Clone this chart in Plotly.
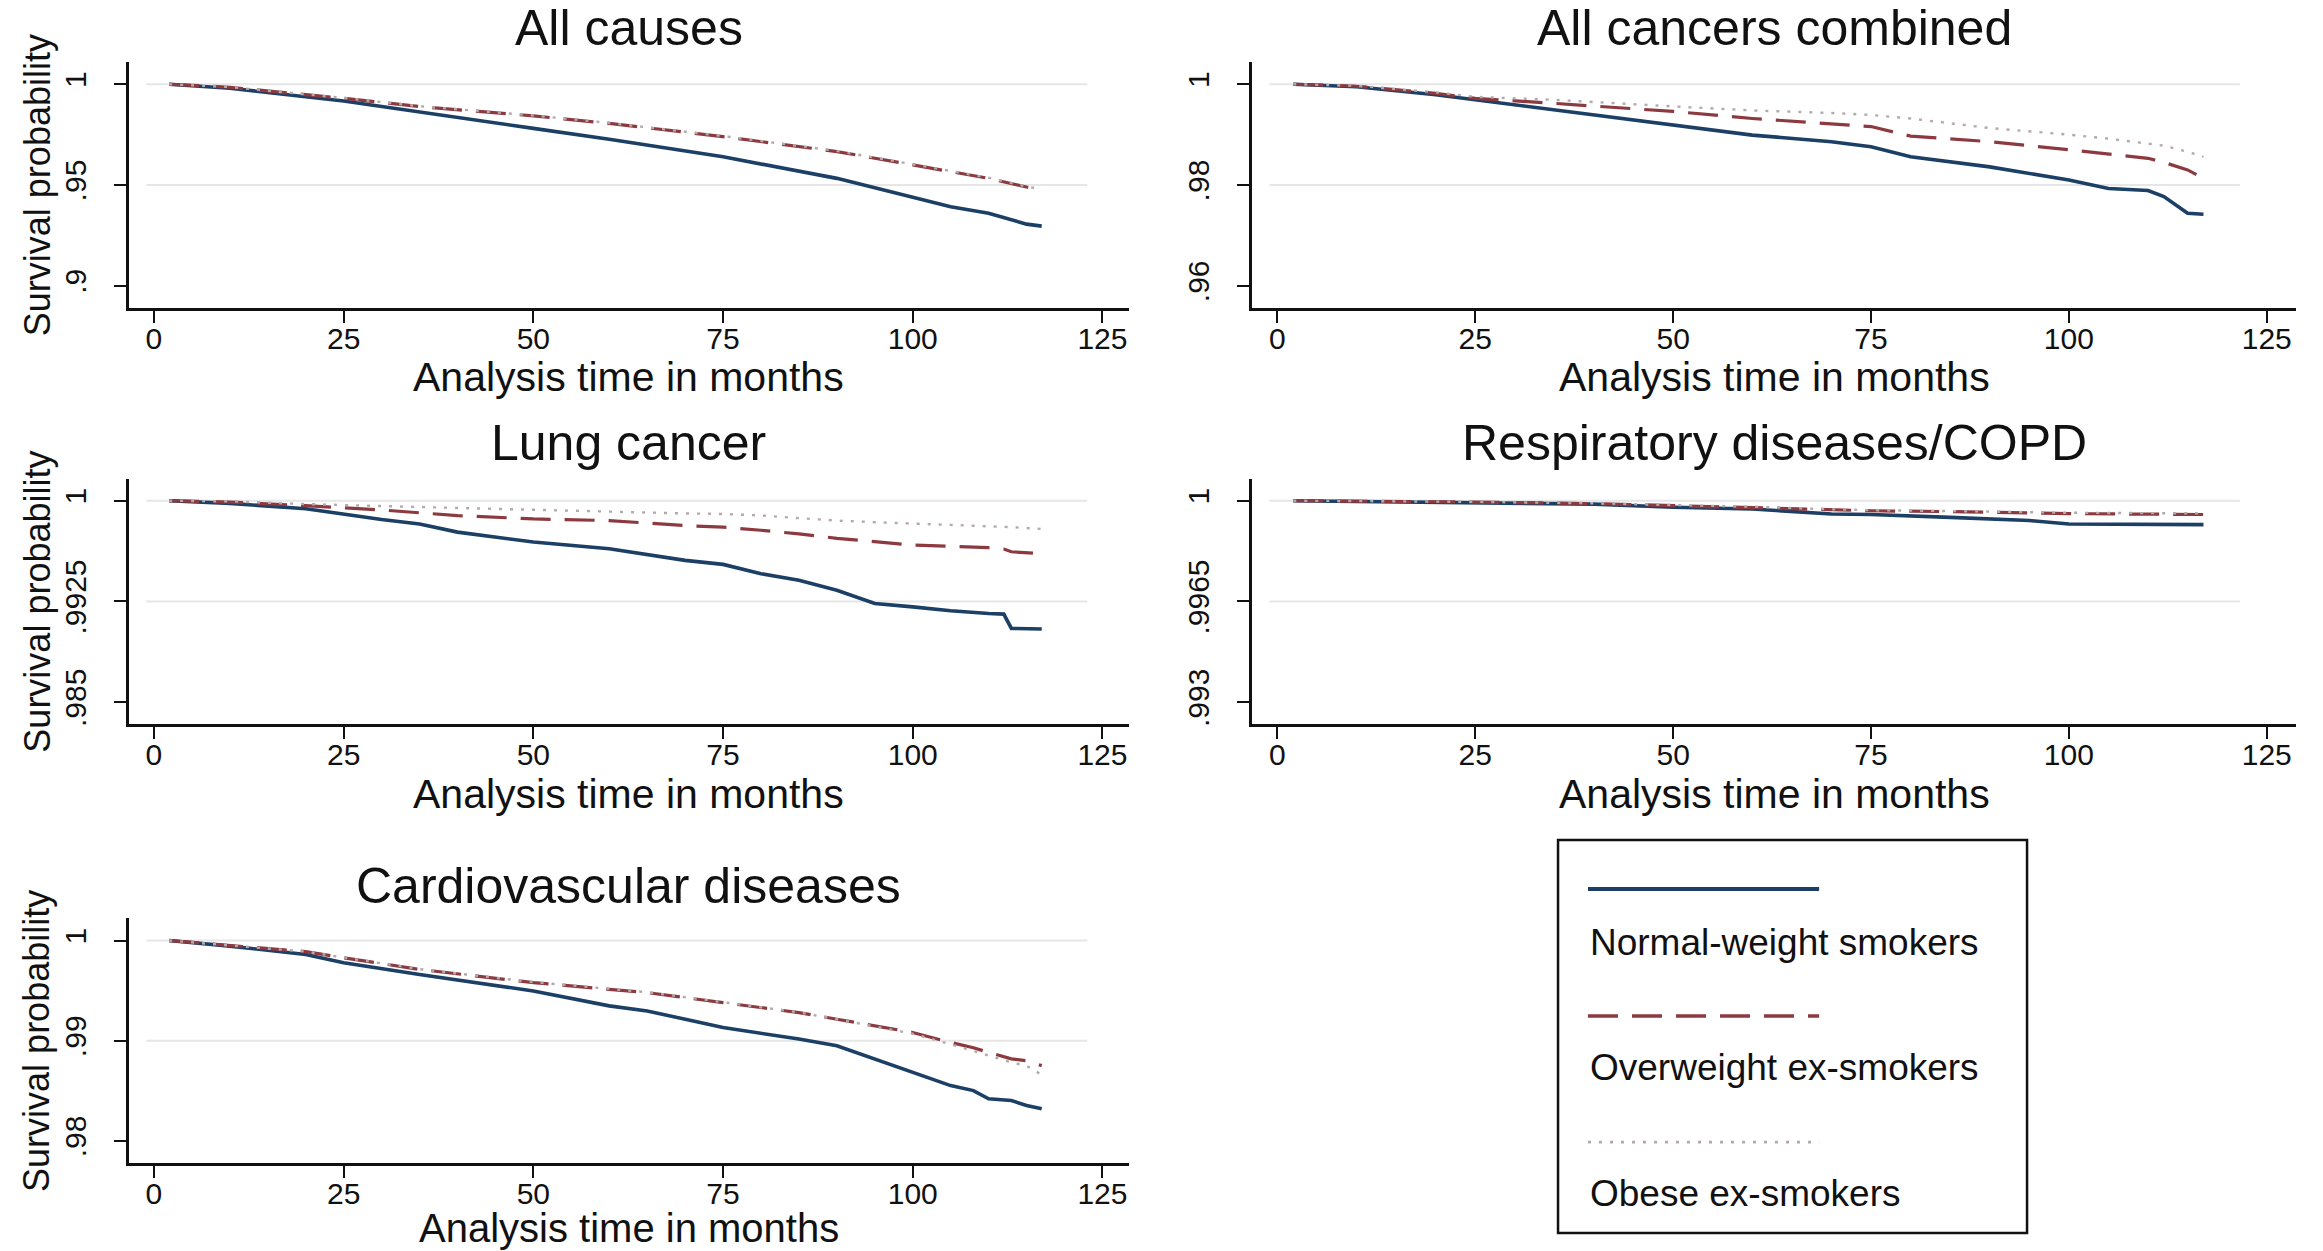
import plotly.graph_objects as go

# ---------------- data ----------------
series_names = ["Normal-weight smokers", "Overweight ex-smokers", "Obese ex-smokers"]
panel_titles = ["All causes", "All cancers combined", "Lung cancer",
                "Respiratory diseases/COPD", "Cardiovascular diseases"]
x_tick_vals = [0, 25, 50, 75, 100, 125]
x_tick_text = ["0", "25", "50", "75", "100", "125"]

# All causes
m1 = [2, 10, 25, 35, 50, 60, 75, 90, 100, 105, 110, 115, 117]
s1_normal = [1.0, .998, .9917, .9864, .9781, .9727, .964, .9533, .9442, .9392, .936, .9306, .9296]
s1_over = [1.0, .9985, .993, .9889, .9843, .9806, .974, .9666, .96, .9567, .9533, .949, .9475]
s1_obese = [1.0, .9986, .9932, .9891, .9845, .9808, .9743, .9669, .9603, .957, .9536, .9493, .9478]
y1_ticks = [0.9, 0.95, 1.0]
y1_text = [".9", ".95", "1"]

# All cancers combined
m2 = [2, 10, 20, 25, 35, 45, 50, 60, 70, 75, 80, 90, 100, 105, 110, 112, 115, 117]
s2_normal = [1, .9995, .9979, .9969, .9949, .9929, .9919, .9899, .9886, .9876, .9856, .9836, .981, .9793, .9789, .9777, .9744, .9742]
s2_over = [1, .9996, .9982, .9972, .9962, .9951, .9946, .9932, .9922, .9916, .9897, .9886, .987, .9862, .9853, .9845, .983, .9813]
s2_obese = [1, .9997, .9984, .9975, .9969, .996, .9956, .9948, .9943, .9939, .9932, .9913, .99, .9892, .9883, .9878, .9866, .9856]
y2_ticks = [0.96, 0.98, 1.0]
y2_text = [".96", ".98", "1"]

# Lung cancer
m3 = [2, 10, 20, 25, 30, 35, 40, 50, 60, 70, 75, 80, 85, 90, 95, 100, 105, 110, 112, 113, 117]
s3_normal = [1, .9998, .9994, .999, .9986, .99827, .99766, .99692, .99642, .99556, .99526, .99457, .99408,
             .99334, .99235, .9921, .99181, .99161, .99156, .9905, .99045]
s3_over = [1, .9999, .99963, .9995, .99931, .9991, .99889, .99864, .99852, .99815, .99803, .9978, .99753,
           .9972, .99692, .9967, .9966, .9965, .9964, .9962, .99605]
s3_obese = [1, .99995, .99975, .9997, .9996, .99953, .99946, .9993, .99914, .99905, .99901, .9989, .9987,
            .99852, .9984, .9983, .99822, .9981, .99805, .99803, .9979]
y3_ticks = [0.985, 0.9925, 1.0]
y3_text = [".985", ".9925", "1"]

# Respiratory diseases/COPD
m4 = [2, 10, 25, 40, 50, 60, 70, 75, 85, 95, 100, 117]
s4_normal = [1, .99998, .99994, .99988, .99977, .99971, .99954, .99952, .99942, .99931, .99919, .99917]
s4_over = [1, .99999, .99995, .9999, .99983, .99977, .99968, .99965, .99962, .99958, .99955, .99952]
s4_obese = [1, .99999, .99996, .99991, .99985, .99979, .9997, .99967, .99964, .9996, .99958, .99956]
y4_ticks = [0.993, 0.9965, 1.0]
y4_text = [".993", ".9965", "1"]

# Cardiovascular diseases
m5 = [2, 10, 20, 25, 35, 50, 60, 65, 75, 85, 90, 95, 100, 105, 108, 110, 113, 115, 117]
s5_normal = [1, .99944, .99861, .99778, .99662, .99497, .99348, .99298, .99132, .99017, .9895, .98818,
             .98685, .98553, .98503, .98421, .98404, .98354, .98321]
s5_over = [1, .9995, .9989, .99828, .99712, .9958, .99513, .9948, .99381, .99281, .99215, .9915,
           .99083, .98983, .9893, .98884, .9882, .988, .98752]
s5_obese = [1, .9995, .9989, .9983, .99715, .99585, .99518, .99485, .99385, .99283, .99215, .99145,
            .9907, .98965, .989, .98855, .98785, .9875, .9866]
y5_ticks = [0.98, 0.99, 1.0]
y5_text = [".98", ".99", "1"]

# ---------------- style ----------------
FONT = "Liberation Sans, Arial, sans-serif"
colors = ["#1c3f66", "#8c3a40", "#b5a9ac"]
dashes = ["solid", "30px,14px", "3px,8px"]
widths = [3.6, 3.2, 2.4]

panels = [
    dict(m=m1, s=[s1_normal, s1_over, s1_obese], yt=y1_ticks, ytt=y1_text,
         xd=[0.0555, 0.486], yd=[0.7538, 0.9504], xr=[-3.3, 128.5], yr=[0.889, 1.011], gx=123),
    dict(m=m2, s=[s2_normal, s2_over, s2_obese], yt=y2_ticks, ytt=y2_text,
         xd=[0.539, 0.9884], yd=[0.7538, 0.9504], xr=[-3.2, 128.7], yr=[0.9556, 1.0044], gx=121.6),
    dict(m=m3, s=[s3_normal, s3_over, s3_obese], yt=y3_ticks, ytt=y3_text,
         xd=[0.0555, 0.486], yd=[0.4209, 0.6175], xr=[-3.3, 128.5], yr=[0.98335, 1.00165], gx=123),
    dict(m=m4, s=[s4_normal, s4_over, s4_obese], yt=y4_ticks, ytt=y4_text,
         xd=[0.539, 0.9884], yd=[0.4209, 0.6175], xr=[-3.2, 128.7], yr=[0.99223, 1.00077], gx=121.6),
    dict(m=m5, s=[s5_normal, s5_over, s5_obese], yt=y5_ticks, ytt=y5_text,
         xd=[0.0555, 0.486], yd=[0.0703, 0.2658], xr=[-3.3, 128.5], yr=[0.9778, 1.0022], gx=123),
]

fig = go.Figure()
layout = dict(
    width=2323, height=1251,
    margin=dict(l=0, r=0, t=0, b=0, autoexpand=False),
    paper_bgcolor="white", plot_bgcolor="white",
    showlegend=False,
    font=dict(family=FONT, color="#111111"),
)
shapes = []
annotations = []
title_y = [0.978, 0.978, 0.646, 0.646, 0.292]
xtitle_y = [0.6985, 0.6985, 0.3655, 0.3655, 0.0185]
xtitle_size = [41, 41, 41, 41, 40]

for i, p in enumerate(panels):
    n = i + 1
    xa = "x" if n == 1 else f"x{n}"
    ya = "y" if n == 1 else f"y{n}"
    for gv in p["yt"][1:]:
        shapes.append(dict(type="line", xref=xa, yref=ya, x0=-1, x1=p["gx"], y0=gv, y1=gv,
                           line=dict(color="#e6e6e6", width=2), layer="below"))
    for k in range(3):
        fig.add_trace(go.Scatter(
            x=p["m"], y=p["s"][k], mode="lines", name=series_names[k],
            xaxis=xa, yaxis=ya,
            line=dict(color=colors[k], width=widths[k], dash=dashes[k]),
        ))
    axcommon = dict(showline=True, linecolor="#111111", linewidth=2.5, ticks="outside",
                    ticklen=12, tickwidth=2.2, tickcolor="#111111", showgrid=False,
                    zeroline=False, automargin=False, fixedrange=True,
                    tickfont=dict(size=30, family=FONT, color="#111111"))
    layout[f"xaxis{'' if n == 1 else n}"] = dict(
        domain=p["xd"], range=p["xr"], anchor=ya, tickmode="array",
        tickvals=x_tick_vals, ticktext=x_tick_text, ticklabelstandoff=-10, **axcommon)
    layout[f"yaxis{'' if n == 1 else n}"] = dict(
        domain=p["yd"], range=p["yr"], anchor=xa, tickmode="array",
        tickvals=p["yt"], ticktext=p["ytt"], tickangle=-90, ticklabelstandoff=16, **axcommon)
    xc = (p["xd"][0] + p["xd"][1]) / 2
    annotations.append(dict(text=panel_titles[i], x=xc, y=title_y[i], xref="paper", yref="paper",
                            showarrow=False, xanchor="center", yanchor="middle",
                            font=dict(size=50, family=FONT, color="#111111")))
    annotations.append(dict(text="Analysis time in months", x=xc, y=xtitle_y[i], xref="paper", yref="paper",
                            showarrow=False, xanchor="center", yanchor="middle",
                            font=dict(size=xtitle_size[i], family=FONT, color="#111111")))
    if n in (1, 3, 5):
        yc = (p["yd"][0] + p["yd"][1]) / 2
        annotations.append(dict(text="Survival probability", x=0.016, y=yc, xref="paper", yref="paper",
                                showarrow=False, textangle=-90, xanchor="center", yanchor="middle",
                                font=dict(size=36, family=FONT, color="#111111")))

# ---------------- legend (manual, sample line above label) ----------------
shapes.append(dict(type="rect", xref="paper", yref="paper", x0=0.6707, x1=0.8726, y0=0.0144, y1=0.3285,
                   line=dict(color="#111111", width=2.5), fillcolor="rgba(0,0,0,0)"))
leg_line_y = [0.2894, 0.1878, 0.0871]
leg_text_y = [0.2470, 0.1463, 0.0456]
for k in range(3):
    shapes.append(dict(type="line", xref="paper", yref="paper", x0=0.6836, x1=0.7831,
                       y0=leg_line_y[k], y1=leg_line_y[k],
                       line=dict(color=colors[k], width=widths[k] + 0.4, dash=dashes[k])))
    annotations.append(dict(text=series_names[k], x=0.6836, y=leg_text_y[k], xref="paper", yref="paper",
                            showarrow=False, xanchor="left", yanchor="middle",
                            font=dict(size=37, family=FONT, color="#111111")))

layout["shapes"] = shapes
layout["annotations"] = annotations
fig.update_layout(**layout)
fig.write_html("out.html")
